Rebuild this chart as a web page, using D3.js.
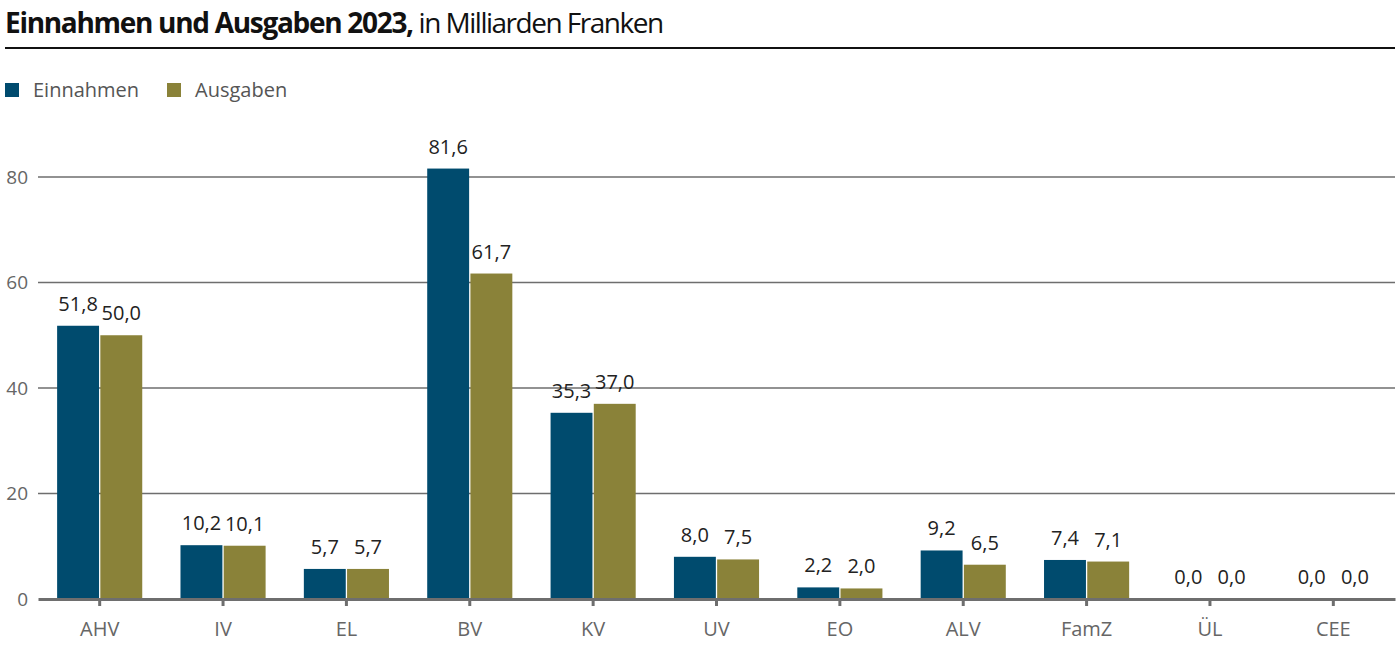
<!DOCTYPE html>
<html>
<head>
<meta charset="utf-8">
<script src="https://cdn.jsdelivr.net/npm/d3@7"></script>
<style>
  body { margin: 0; background: #fff; }
  svg { display: block; font-family: "Open Sans", sans-serif; }
</style>
</head>
<body>
<svg id="drawing_region"></svg>
<script>
const categories = ['AHV', 'IV', 'EL', 'BV', 'KV', 'UV', 'EO', 'ALV', 'FamZ', 'ÜL', 'CEE'];
const einnahmen = [51.8, 10.2, 5.7, 81.6, 35.3, 8.0, 2.2, 9.2, 7.4, 0.0, 0.0];
const ausgaben = [50.0, 10.1, 5.7, 61.7, 37.0, 7.5, 2.0, 6.5, 7.1, 0.0, 0.0];
const seriesNames = ['Einnahmen', 'Ausgaben'];
const yTicks = [0, 20, 40, 60, 80];

const colors = ['#004b6e', '#8a8239'];

const width = 1400, height = 658;
const margin = {top: 177, right: 5, bottom: 59, left: 38};

const svg = d3.select('#drawing_region')
    .attr('width', width)
    .attr('height', height);

// title
const title = svg.append('text')
    .attr('x', 5)
    .attr('y', 33)
    .attr('font-size', 28)
    .attr('fill', '#111');
title.append('tspan')
    .attr('font-weight', 700)
    .attr('letter-spacing', -1.3)
    .text('Einnahmen und Ausgaben 2023,');
title.append('tspan')
    .attr('font-weight', 400)
    .attr('letter-spacing', -1.5)
    .text(' in Milliarden Franken');

svg.append('line')
    .attr('x1', 5).attr('x2', 1395)
    .attr('y1', 48).attr('y2', 48)
    .attr('stroke', '#111')
    .attr('stroke-width', 2);

// legend
const legendX = [5, 167];
seriesNames.forEach((name, i) => {
    svg.append('rect')
        .attr('x', legendX[i]).attr('y', 83)
        .attr('width', 14).attr('height', 14)
        .attr('fill', colors[i]);
    svg.append('text')
        .attr('x', legendX[i] + 28).attr('y', 97)
        .attr('font-size', 20)
        .attr('fill', '#555')
        .text(name);
});

const chart = svg.append('g')
    .attr('transform', `translate(${margin.left}, 0)`);

const inner_width = width - margin.left - margin.right;

const xscale = d3.scaleBand()
    .domain(categories)
    .range([0, inner_width])
    .paddingInner(0)
    .paddingOuter(0);

const subscale = d3.scaleBand()
    .domain(seriesNames)
    .range([xscale.bandwidth() * 0.155, xscale.bandwidth() * 0.845])
    .paddingInner(0.03);

const yscale = d3.scaleLinear()
    .domain([0, 80])
    .range([599, 177]);

const locale = d3.formatLocale({decimal: ',', thousands: "'", grouping: [3], currency: ['', '']});
const fmt = locale.format('.1f');

// gridlines
chart.append('g')
    .selectAll('line')
    .data(yTicks.filter(d => d > 0))
    .join('line')
    .attr('x1', 0).attr('x2', inner_width)
    .attr('y1', d => yscale(d)).attr('y2', d => yscale(d))
    .attr('stroke', '#6e6e6e')
    .attr('stroke-width', 1.5);

// y labels
const yaxis = d3.axisLeft(yscale)
    .tickValues(yTicks)
    .tickSize(0)
    .tickPadding(10)
    .tickFormat(d3.format('d'));
const yg = chart.append('g').call(yaxis);
yg.select('.domain').remove();
yg.selectAll('text')
    .attr('font-size', 19)
    .attr('font-family', '"Open Sans", sans-serif')
    .attr('fill', '#666');

// bars
const data = categories.map((c, i) => ({label: c, values: [einnahmen[i], ausgaben[i]]}));

const groups = chart.selectAll('g.group')
    .data(data)
    .join('g')
    .attr('class', 'group')
    .attr('transform', d => `translate(${xscale(d.label)}, 0)`);

groups.selectAll('rect')
    .data(d => d.values.map((v, i) => ({key: seriesNames[i], value: v, idx: i})))
    .join('rect')
    .attr('x', d => subscale(d.key))
    .attr('y', d => yscale(d.value))
    .attr('width', subscale.bandwidth())
    .attr('height', d => yscale(0) - yscale(d.value))
    .attr('fill', d => colors[d.idx]);

groups.selectAll('text.val')
    .data(d => d.values.map((v, i) => ({key: seriesNames[i], value: v})))
    .join('text')
    .attr('class', 'val')
    .attr('x', d => subscale(d.key) + subscale.bandwidth() / 2)
    .attr('y', d => yscale(d.value) - 15)
    .attr('text-anchor', 'middle')
    .attr('font-size', 20)
    .attr('fill', '#222')
    .text(d => fmt(d.value));

// x axis
const xaxis = d3.axisBottom(xscale)
    .tickSize(7)
    .tickSizeOuter(0)
    .tickPadding(16);
const xg = chart.append('g')
    .attr('transform', `translate(0, ${yscale(0)})`)
    .call(xaxis);
xg.select('.domain')
    .attr('stroke', '#6e6e6e')
    .attr('stroke-width', 3);
xg.selectAll('.tick line')
    .attr('stroke', '#6e6e6e')
    .attr('stroke-width', 3);
xg.selectAll('text')
    .attr('font-size', 20)
    .attr('font-family', '"Open Sans", sans-serif')
    .attr('fill', '#666');
</script>
</body>
</html>
